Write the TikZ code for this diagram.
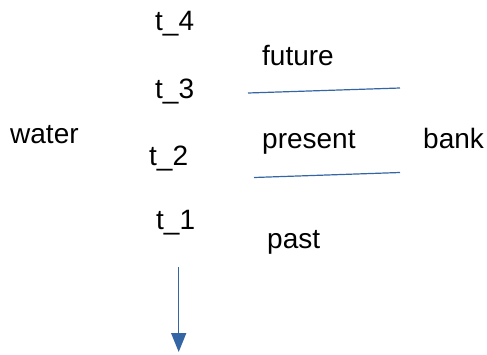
\documentclass[tikz,border=0pt]{standalone}
\usepackage{fontspec}
\setmainfont{Liberation Sans}
\usetikzlibrary{arrows.meta}
\definecolor{lineblue}{HTML}{3465A4}
\begin{document}
\begin{tikzpicture}[x=1pt,y=-1pt,
  lbl/.style={anchor=base west,inner sep=0pt,font=\fontsize{28}{33}\selectfont},
  rule/.style={draw=lineblue,line width=1.2pt},
  arr/.style={draw=lineblue,line width=1.5pt,-{Triangle[width=15pt,length=19pt]}}]
\useasboundingbox (0,0) rectangle (487,354);
\node[lbl] (t4) at (155,30.5) {t\_4};
\node[lbl] (t3) at (155,98.5) {t\_3};
\node[lbl] (t2) at (149,165) {t\_2};
\node[lbl] (t1) at (156,229) {t\_1};
\node[lbl] (water) at (10,143) {water};
\node[lbl] (future) at (262,65) {future};
\node[lbl] (present) at (262,148) {present};
\node[lbl] (bank) at (423,148) {bank};
\node[lbl] (past) at (267,248) {past};
\coordinate (l1a) at (248,93);
\coordinate (l1b) at (400,88);
\coordinate (l2a) at (254,177.5);
\coordinate (l2b) at (400,172.5);
\coordinate (aa) at (178.7,267);
\coordinate (ab) at (178.7,352);
\draw[rule] (l1a) -- (l1b);
\draw[rule] (l2a) -- (l2b);
\draw[arr] (aa) -- (ab);
\end{tikzpicture}
\end{document}
